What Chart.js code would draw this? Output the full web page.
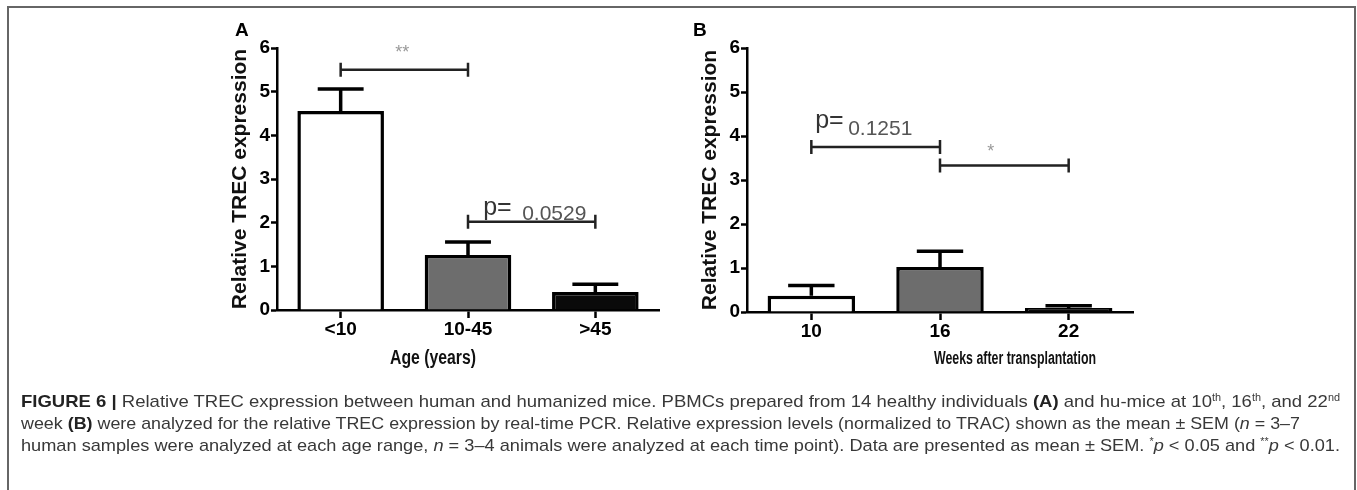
<!DOCTYPE html>
<html>
<head>
<meta charset="utf-8">
<script src="https://cdn.jsdelivr.net/npm/chart.js@4.4.0/dist/chart.umd.min.js"></script>
<style>
body{margin:0;background:#fff;width:1357px;height:490px;overflow:hidden;position:relative;font-family:"Liberation Sans",Arial,sans-serif}
#frame{position:absolute;left:7px;top:6px;width:1349px;height:600px;box-sizing:border-box;border:2px solid #666;border-bottom:none}
canvas{position:absolute;top:0}
#cap{position:absolute;left:21px;top:391px;font-size:17px;line-height:22px;color:#383838;white-space:nowrap}
#cap span.ln{display:inline-block;transform-origin:0 50%}
#cap b{color:#222}
#cap sup{font-size:10px;line-height:0;vertical-align:6px}
</style>
</head>
<body>
<div id="frame"></div>
<canvas id="chartA" width="470" height="390" style="left:200px"></canvas>
<canvas id="chartB" width="470" height="392" style="left:670px"></canvas>
<div id="cap">
<span class="ln" data-w="1319"><b>FIGURE 6 |</b> Relative TREC expression between human and humanized mice. PBMCs prepared from 14 healthy individuals <b>(A)</b> and hu-mice at 10<sup>th</sup>, 16<sup>th</sup>, and 22<sup>nd</sup></span><br>
<span class="ln" data-w="1279">week <b>(B)</b> were analyzed for the relative TREC expression by real-time PCR. Relative expression levels (normalized to TRAC) shown as the mean ± SEM (<i>n</i> = 3–7</span><br>
<span class="ln" data-w="1319">human samples were analyzed at each age range, <i>n</i> = 3–4 animals were analyzed at each time point). Data are presented as mean ± SEM. <sup>*</sup><i>p</i> &lt; 0.05 and <sup>**</sup><i>p</i> &lt; 0.01.</span>
</div>
<script>
const yTicks = [0, 1, 2, 3, 4, 5, 6];

const ageLabels = ['<10', '10-45', '>45'];
const ageMean = [4.56, 1.26, 0.41];
const ageSem = [0.50, 0.30, 0.18];

const weekLabels = ['10', '16', '22'];
const weekMean = [0.37, 1.02, 0.09];
const weekSem = [0.23, 0.36, 0.05];

const barFill = ['#ffffff', '#6d6d6d', '#0a0a0a'];

// significance brackets (bar index from/to, height in y units, label)
const ageSigFrom = [0, 1];
const ageSigTo = [1, 2];
const ageSigLevel = [5.5, 2.02];
const ageSigText = ['**', 'p=|0.0529'];

const weekSigFrom = [0, 1];
const weekSigTo = [1, 2];
const weekSigLevel = [3.75, 3.33];
const weekSigText = ['p=|0.1251', '*'];

const FONT = '"Liberation Sans", Arial, sans-serif';

function fitText(ctx, txt, cx, base, w) {
  const nat = ctx.measureText(txt).width;
  ctx.save();
  ctx.translate(cx, base);
  ctx.scale(w / nat, 1);
  ctx.textAlign = 'center';
  ctx.fillText(txt, 0, 0);
  ctx.restore();
}

function makePlugin(p) {
  return {
    id: 'annot' + p.letter,
    afterDatasetsDraw(chart) {
      const {ctx, scales: {x, y}} = chart;
      const meta = chart.getDatasetMeta(0);
      ctx.save();
      // error bars (upper half only)
      ctx.strokeStyle = '#000';
      ctx.lineWidth = 3.5;
      meta.data.forEach((bar, i) => {
        const top = y.getPixelForValue(p.mean[i]);
        const cap = y.getPixelForValue(p.mean[i] + p.sem[i]);
        const hw = bar.width * 0.265;
        ctx.beginPath();
        ctx.moveTo(bar.x, top); ctx.lineTo(bar.x, cap);
        ctx.moveTo(bar.x - hw, cap); ctx.lineTo(bar.x + hw, cap);
        ctx.stroke();
      });
      // brackets
      ctx.strokeStyle = '#222';
      ctx.lineWidth = 2.5;
      p.from.forEach((f, i) => {
        const x1 = x.getPixelForValue(f), x2 = x.getPixelForValue(p.to[i]);
        const yy = y.getPixelForValue(p.level[i]);
        ctx.beginPath();
        ctx.moveTo(x1, yy); ctx.lineTo(x2, yy);
        ctx.moveTo(x1, yy - 7); ctx.lineTo(x1, yy + 7);
        ctx.moveTo(x2, yy - 7); ctx.lineTo(x2, yy + 7);
        ctx.stroke();
        const cx = (x1 + x2) / 2, s = p.sigPos[i];
        const parts = p.text[i].split('|');
        ctx.textAlign = 'left';
        ctx.textBaseline = 'alphabetic';
        if (parts.length === 1) {
          ctx.fillStyle = '#999';
          ctx.font = '18px ' + FONT;
          ctx.textAlign = 'center';
          ctx.fillText(parts[0], cx + s.dx, yy + s.dy);
        } else {
          ctx.fillStyle = '#333';
          ctx.font = '25px ' + FONT;
          ctx.fillText(parts[0], cx + s.pDx, yy + s.pDy);
          ctx.fillStyle = '#555';
          ctx.font = '21px ' + FONT;
          ctx.fillText(parts[1], cx + s.nDx, yy + s.nDy);
        }
      });
      // panel letter and x title
      ctx.fillStyle = '#000';
      ctx.textAlign = 'left';
      ctx.font = 'bold 19px ' + FONT;
      ctx.fillText(p.letter, p.letterX, 36);
      ctx.font = 'bold ' + p.xTitleSize + 'px ' + FONT;
      ctx.fillStyle = '#111';
      fitText(ctx, p.xTitle, p.xTitleX, 364, p.xTitleW);
      ctx.restore();
    }
  };
}

function makeChart(id, labels, mean, p, rightPad) {
  new Chart(document.getElementById(id), {
    type: 'bar',
    data: {
      labels: labels,
      datasets: [{
        data: mean,
        backgroundColor: barFill,
        borderColor: '#000',
        borderWidth: 3.5,
        borderSkipped: 'bottom',
        categoryPercentage: 1,
        barPercentage: 0.68
      }]
    },
    options: {
      responsive: false,
      animation: false,
      layout: {padding: {left: 0, right: rightPad, top: 48, bottom: 0}},
      plugins: {legend: {display: false}, tooltip: {enabled: false}},
      scales: {
        x: {
          afterFit: s => { s.height = 80; },
          grid: {offset: false, drawOnChartArea: false, drawTicks: true, tickLength: 8, tickWidth: 2.5, tickColor: '#000'},
          border: {display: true, color: '#000', width: 2.5},
          ticks: {color: '#000', padding: 0, font: {family: FONT, size: 19, weight: 'bold'}}
        },
        y: {
          min: 0, max: 6,
          afterFit: s => { s.width = 77; },
          afterBuildTicks: s => { s.ticks = yTicks.map(v => ({value: v})); },
          grid: {drawOnChartArea: false, drawTicks: true, tickLength: 6, tickWidth: 2.5, tickColor: '#000'},
          border: {display: true, color: '#000', width: 2.5},
          ticks: {color: '#000', padding: 1, font: {family: FONT, size: 19, weight: 'bold'}},
          title: {display: true, text: 'Relative TREC expression', color: '#111',
                  font: {family: FONT, size: 21, weight: 'bold', lineHeight: 1.2}, padding: {top: 28, bottom: 0}}
        }
      }
    },
    plugins: [makePlugin(p)]
  });
}

makeChart('chartA', ageLabels, ageMean, {
  letter: 'A', letterX: 35, mean: ageMean, sem: ageSem,
  from: ageSigFrom, to: ageSigTo, level: ageSigLevel, text: ageSigText,
  sigPos: [{dx: -2, dy: -11.6}, {pDx: -48.5, pDy: -6.7, nDx: -9.5, nDy: -1.7}],
  xTitle: 'Age (years)', xTitleX: 233, xTitleW: 86, xTitleSize: 20
}, 11);

makeChart('chartB', weekLabels, weekMean, {
  letter: 'B', letterX: 23, mean: weekMean, sem: weekSem,
  from: weekSigFrom, to: weekSigTo, level: weekSigLevel, text: weekSigText,
  sigPos: [{pDx: -60.5, pDy: -19.3, nDx: -27.5, nDy: -12.3}, {dx: -13.5, dy: -8.3}],
  xTitle: 'Weeks after transplantation', xTitleX: 345, xTitleW: 162, xTitleSize: 18
}, 7);

document.querySelectorAll('#cap span.ln').forEach(el => {
  const w = el.getBoundingClientRect().width;
  el.style.transform = 'scaleX(' + (el.dataset.w / w) + ')';
});
</script>
</body>
</html>
